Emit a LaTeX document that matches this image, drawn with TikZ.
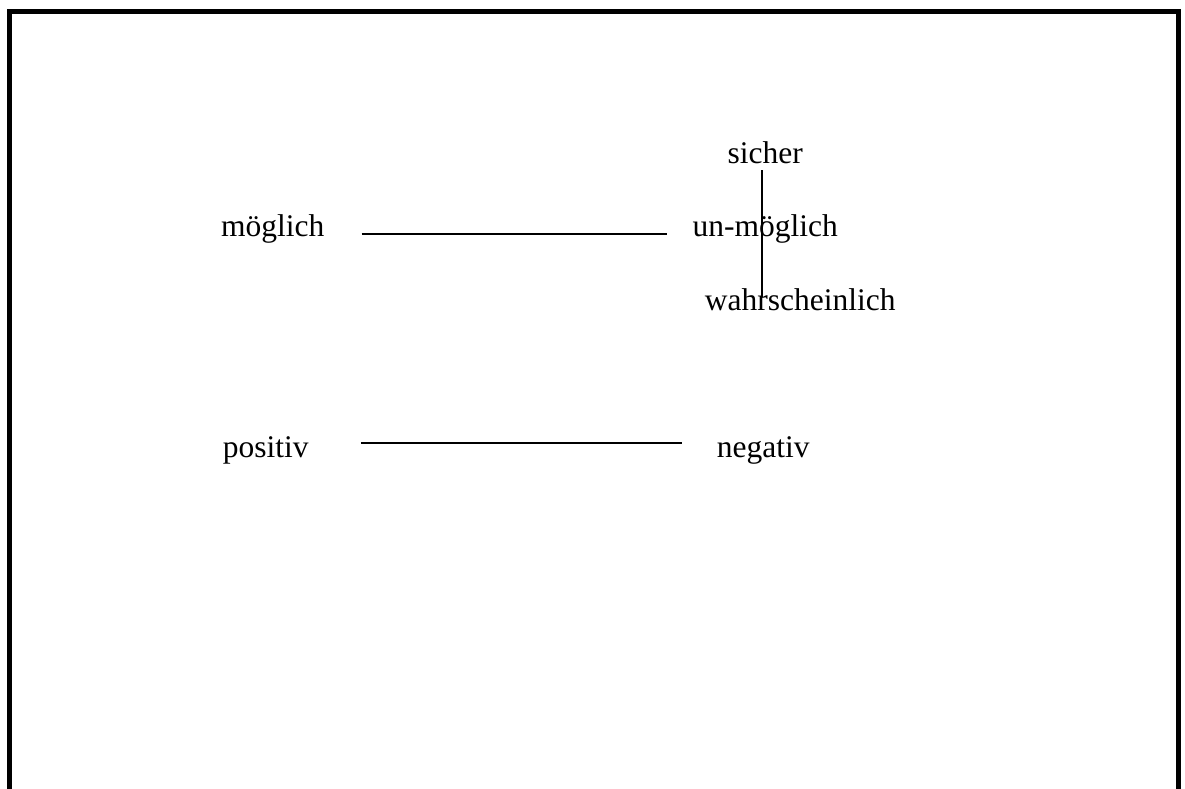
\documentclass[tikz,border=0pt]{standalone}
\usepackage{fontspec}
\setmainfont{Liberation Serif}
\usetikzlibrary{positioning, calc}
\tikzstyle{word} = [inner sep=0pt, text height=22pt, text depth=7pt, font=\fontsize{31.5}{38}\selectfont]
\tikzstyle{line} = [line width=1.6pt]
\begin{document}
\begin{tikzpicture}[x=1pt, y=1pt, node distance=73.5pt]
			\useasboundingbox (0,0) rectangle (1185,789);
			% frame, open at the bottom
			\draw[line width=5.5pt] (9.5,-5) -- (9.5,777.5) -- (1178.5,777.5) -- (1178.5,-5);
			\node(moeglich)[word, anchor=base west] at (221,552) {möglich};
			\node(unmoeglich)[word, right of=moeglich, node distance=492.5pt] {un-möglich};
			\node(sicher)[word, above of=unmoeglich] {sicher};
			\node(wahr)[word, below of=unmoeglich, xshift=35pt] {wahrscheinlich};
			\node(positiv)[word, below of=moeglich, node distance=221pt, xshift=-7pt] {positiv};
			\node(negativ)[word, right of=positiv, node distance=497.5pt] {negativ};
			\draw [line, shorten <=37pt, shorten >=26pt] ([yshift=3pt]moeglich.base east) -- ([yshift=3pt]unmoeglich.base west);
			\draw [line, shorten <=52pt, shorten >=35pt] ([yshift=15pt]positiv.base east) -- ([yshift=15pt]negativ.base west);
			\draw [line] ([shift={(-3.5pt,-7pt)}]sicher.base) -- ($(sicher.base |- wahr.base)+(-3.5,13)$);
		\end{tikzpicture}
\end{document}
